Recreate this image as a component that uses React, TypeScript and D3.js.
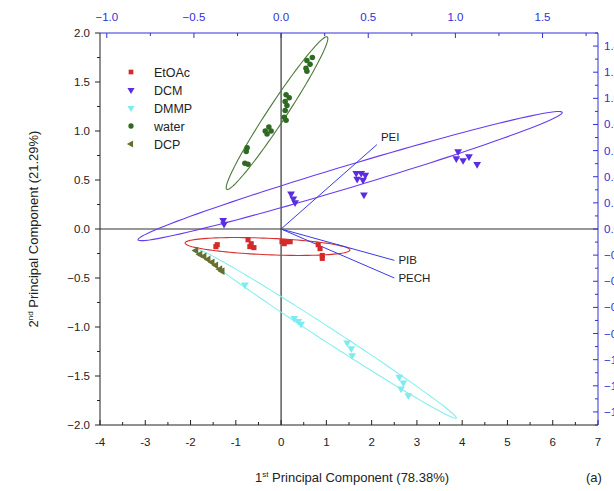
import React from 'react';
import * as d3 from 'd3';

// scores (1st PC, 2nd PC) per solvent
const etoac = [
  [-1.41, -0.16], [-1.44, -0.18], [-0.73, -0.11], [-0.66, -0.15], [-0.6, -0.19],
  [-0.69, -0.18], [0.02, -0.13], [0.11, -0.13], [0.2, -0.13], [0.07, -0.15],
  [0.82, -0.16], [0.86, -0.2], [0.91, -0.27], [0.91, -0.3],
];
const dcm = [
  [-1.28, 0.09], [-1.26, 0.05], [0.22, 0.36], [0.27, 0.31], [0.31, 0.27],
  [1.66, 0.57], [1.77, 0.57], [1.86, 0.55], [1.68, 0.51], [1.81, 0.5], [1.83, 0.35],
  [3.91, 0.79], [3.87, 0.72], [4.02, 0.7], [4.15, 0.74], [4.33, 0.66],
];
const dmmp = [
  [-0.8, -0.57], [0.29, -0.91], [0.38, -0.94], [0.44, -0.97], [1.46, -1.16],
  [1.55, -1.22], [1.57, -1.29], [2.61, -1.51], [2.7, -1.57], [2.65, -1.63], [2.81, -1.7],
];
const water = [
  [0.57, 1.72], [0.69, 1.75], [0.64, 1.68], [0.55, 1.64], [0.57, 1.61],
  [0.11, 1.37], [0.18, 1.34], [0.09, 1.3], [0.13, 1.26], [0.09, 1.21], [0.07, 1.14], [0.11, 1.11],
  [-0.35, 1.0], [-0.27, 1.04], [-0.22, 1.0], [-0.31, 0.97],
  [-0.75, 0.83], [-0.77, 0.79], [-0.8, 0.67], [-0.73, 0.66],
];
const dcp = [
  [-1.88, -0.22], [-1.79, -0.26], [-1.7, -0.28], [-1.61, -0.31],
  [-1.52, -0.34], [-1.44, -0.37], [-1.35, -0.41], [-1.3, -0.43],
];

// confidence ellipses: major axis end points (data units) and minor/major ratio
const ellipses = [
  { name: 'water', p1: [-1.2, 0.405], p2: [1.02, 1.96], ratio: 0.1 },
  { name: 'DCM', p1: [-3.16, -0.11], p2: [6.21, 1.19], ratio: 0.05 },
  { name: 'EtOAc', p1: [-2.12, -0.143], p2: [1.52, -0.214], ratio: 0.1 },
  { name: 'DMMP', p1: [-1.86, -0.21], p2: [3.87, -1.93], ratio: 0.045 },
];

// loadings (top / right axes)
const loadings = [
  { name: 'PEI', x: 0.55, y: 0.646 },
  { name: 'PIB', x: 0.65, y: -0.24 },
  { name: 'PECH', x: 0.65, y: -0.375 },
];

const series = [
  { name: 'EtOAc', data: etoac, color: '#d42a2a', shape: 'square' },
  { name: 'DCM', data: dcm, color: '#5a2ee0', shape: 'down' },
  { name: 'DMMP', data: dmmp, color: '#7cecf0', shape: 'down' },
  { name: 'water', data: water, color: '#2f6a22', shape: 'circle' },
  { name: 'DCP', data: dcp, color: '#66702e', shape: 'left' },
];
const ellipseColors = { water: '#4c7a3a', DCM: '#6a3cf0', EtOAc: '#d83030', DMMP: '#86eef0' };

const FONT = '"Liberation Sans", Arial, sans-serif';
const BLUE = '#3030d8';

function symbolPath(shape, size) {
  if (shape === 'square') return d3.symbol(d3.symbolSquare, size)();
  if (shape === 'circle') return d3.symbol(d3.symbolCircle, size)();
  return d3.symbol(d3.symbolTriangle, size)();
}
function symbolRot(shape) {
  if (shape === 'down') return 180;
  if (shape === 'left') return -90;
  return 0;
}

export default function App() {
  const W = 614, H = 491;
  const x = d3.scaleLinear().domain([-4, 7]).range([100, 598]);
  const y = d3.scaleLinear().domain([-2, 2]).range([425, 33]);
  const xt = d3.scaleLinear().domain([-4 / 3.85, 7 / 3.85]).range([100, 598]);
  const yr = d3.scaleLinear().domain([-1.5, 1.5]).range([425, 33]);

  const line = d3.line().curve(d3.curveLinearClosed);
  const ellipsePath = (e) => {
    const a = [x(e.p1[0]), y(e.p1[1])];
    const b = [x(e.p2[0]), y(e.p2[1])];
    const c = [(a[0] + b[0]) / 2, (a[1] + b[1]) / 2];
    const u = [(b[0] - a[0]) / 2, (b[1] - a[1]) / 2];
    const v = [-u[1] * e.ratio, u[0] * e.ratio];
    const pts = d3.range(0, 120).map((i) => {
      const t = (i / 120) * Math.PI * 2;
      return [c[0] + Math.cos(t) * u[0] + Math.sin(t) * v[0], c[1] + Math.cos(t) * u[1] + Math.sin(t) * v[1]];
    });
    return line(pts);
  };

  const xMajor = d3.range(-4, 7.001, 1);
  const xMinor = d3.range(-3.5, 7, 1);
  const yMajor = d3.range(-2, 2.001, 0.5);
  const yMinor = d3.range(-1.75, 2, 0.5);
  const tMajor = d3.range(-1, 1.76, 0.5);
  const tMinor = d3.range(-0.75, 1.8, 0.5);
  const rMajor = d3.range(-1.4, 1.41, 0.2);
  const rMinor = d3.range(-1.5, 1.51, 0.2);

  return (
    <svg width={W} height={H} style={{ position: 'absolute', left: 0, top: 0, background: '#fff' }} fontFamily={FONT}>
      <rect width={W} height={H} fill="#fff" />

      {/* zero lines */}
      <line x1={x(0)} x2={x(0)} y1={y(2)} y2={y(-2)} stroke="#333" strokeWidth={1.2} />
      <line x1={x(-4)} x2={x(7)} y1={y(0)} y2={y(0)} stroke="#333" strokeWidth={1.2} />

      {/* ellipses */}
      {ellipses.map((e) => (
        <path key={e.name} d={ellipsePath(e)} fill="none" stroke={ellipseColors[e.name]} strokeWidth={1.1} />
      ))}

      {/* loadings */}
      {loadings.map((l) => (
        <g key={l.name}>
          <line x1={xt(0)} y1={yr(0)} x2={xt(l.x)} y2={yr(l.y)} stroke="#3a3ae6" strokeWidth={1} />
          <text x={xt(l.x) + 4} y={yr(l.y) + (l.name === 'PEI' ? -4 : 4)} fontSize={11.5} fill="#222">{l.name}</text>
        </g>
      ))}

      {/* points */}
      {series.map((s) => (
        <g key={s.name} fill={s.color}>
          {s.data.map((d, i) => (
            <path key={i} d={symbolPath(s.shape, s.shape === 'circle' ? 24 : 26)}
              transform={`translate(${x(d[0])},${y(d[1])}) rotate(${symbolRot(s.shape)})`} />
          ))}
        </g>
      ))}

      {/* left axis */}
      <line x1={100} x2={100} y1={33} y2={425} stroke="#222" />
      {yMajor.map((v) => (
        <g key={'ym' + v}>
          <line x1={95} x2={100} y1={y(v)} y2={y(v)} stroke="#222" />
          <text x={90} y={y(v) + 4} fontSize={11.5} textAnchor="end" fill="#222">{d3.format('.1f')(v)}</text>
        </g>
      ))}
      {yMinor.map((v) => <line key={'yn' + v} x1={97} x2={100} y1={y(v)} y2={y(v)} stroke="#222" />)}

      {/* bottom axis */}
      <line x1={100} x2={598} y1={425} y2={425} stroke="#222" />
      {xMajor.map((v) => (
        <g key={'xm' + v}>
          <line x1={x(v)} x2={x(v)} y1={420} y2={425} stroke="#222" />
          <text x={x(v)} y={446} fontSize={11.5} textAnchor="middle" fill="#222">{v}</text>
        </g>
      ))}
      {xMinor.map((v) => <line key={'xn' + v} x1={x(v)} x2={x(v)} y1={422} y2={425} stroke="#222" />)}

      {/* top axis */}
      <line x1={100} x2={598} y1={33} y2={33} stroke={BLUE} />
      {tMajor.map((v) => (
        <g key={'tm' + v}>
          <line x1={xt(v)} x2={xt(v)} y1={33} y2={38} stroke={BLUE} />
          <text x={xt(v)} y={21} fontSize={11.5} textAnchor="middle" fill={BLUE}>{d3.format('.1f')(v)}</text>
        </g>
      ))}
      {tMinor.map((v) => <line key={'tn' + v} x1={xt(v)} x2={xt(v)} y1={33} y2={36} stroke={BLUE} />)}

      {/* right axis */}
      <line x1={598} x2={598} y1={33} y2={425} stroke={BLUE} />
      {rMajor.map((v) => (
        <g key={'rm' + v}>
          <line x1={593} x2={598} y1={yr(v)} y2={yr(v)} stroke={BLUE} />
          <text x={604} y={yr(v) + 4} fontSize={11.5} fill={BLUE}>{d3.format('.1f')(Math.abs(v) < 1e-9 ? 0 : v)}</text>
        </g>
      ))}
      {rMinor.map((v) => <line key={'rn' + v} x1={595} x2={598} y1={yr(v)} y2={yr(v)} stroke={BLUE} />)}

      {/* legend */}
      {series.map((s, i) => (
        <g key={'lg' + s.name} transform={`translate(0,${72 + i * 18})`}>
          <path d={symbolPath(s.shape, 22)} transform={`translate(131,0) rotate(${symbolRot(s.shape)})`} fill={s.color} />
          <text x={154} y={4.5} fontSize={12.5} fill="#222">{s.name}</text>
        </g>
      ))}

      {/* titles */}
      <text x={352} y={482} fontSize={13} textAnchor="middle" fill="#222">
        1<tspan fontSize={8} dy={-5}>st</tspan><tspan dy={5}> Principal Component (78.38%)</tspan>
      </text>
      <text transform="translate(38,229) rotate(-90)" fontSize={13} textAnchor="middle" fill="#222">
        2<tspan fontSize={8} dy={-5}>nd</tspan><tspan dy={5}> Principal Component (21.29%)</tspan>
      </text>
      <text x={586} y={482} fontSize={13} fill="#222">(a)</text>
    </svg>
  );
}
